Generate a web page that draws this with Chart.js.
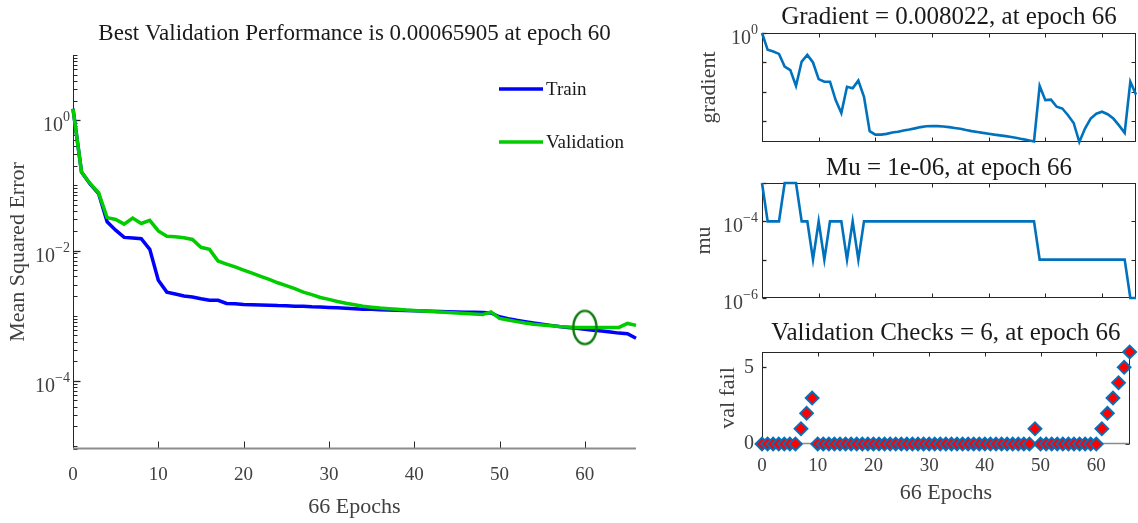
<!DOCTYPE html>
<html>
<head>
<meta charset="utf-8">
<script src="https://cdn.jsdelivr.net/npm/chart.js@4.4.1/dist/chart.umd.min.js"></script>
<style>
html,body{margin:0;padding:0;background:#fff;overflow:hidden;}
#wrap{position:relative;width:1138px;height:523px;background:#fff;}
#wrap canvas{position:absolute;left:0;top:0;width:1138px;height:523px;}
</style>
</head>
<body>
<div id="wrap">
<canvas id="perf" width="1138" height="523"></canvas>
<canvas id="grad" width="1138" height="523"></canvas>
<canvas id="mu" width="1138" height="523"></canvas>
<canvas id="vfail" width="1138" height="523"></canvas>
</div>
<script>
// ---------------- data ----------------
const epochs = [0,1,2,3,4,5,6,7,8,9,10,11,12,13,14,15,16,17,18,19,20,21,22,23,24,25,26,27,28,29,30,31,32,33,34,35,36,37,38,39,40,41,42,43,44,45,46,47,48,49,50,51,52,53,54,55,56,57,58,59,60,61,62,63,64,65,66];

const trainPerf = [1.5,0.16,0.105,0.075,0.0275,0.0205,0.0159,0.0155,0.0152,0.0104,
  0.0035,0.0023,0.00215,0.0020,0.00194,0.00182,0.00173,0.00172,0.00154,0.00152,
  0.00148,0.00147,0.00146,0.00145,0.00143,0.00142,0.00140,0.00139,0.00137,0.00136,
  0.00134,0.00132,0.00130,0.00128,0.00126,0.00125,0.00123,0.00122,0.00121,0.00120,
  0.00119,0.00118,0.00117,0.00116,0.00115,0.00114,0.00113,0.00113,0.00112,0.00110,
  0.00096,0.00090,0.00085,0.00081,0.00077,0.00074,0.00071,0.00068,0.00066,0.00064,
  0.00062,0.00060,0.00058,0.00056,0.00054,0.00053,0.00045];

const valPerf = [1.5,0.16,0.107,0.077,0.032,0.030,0.0254,0.0315,0.026,0.029,
  0.020,0.0166,0.0163,0.0157,0.0148,0.0112,0.0104,0.0069,0.0062,0.0056,
  0.0050,0.0045,0.0040,0.0036,0.0032,0.0029,0.0026,0.0023,0.0021,0.0019,
  0.00178,0.00165,0.00155,0.00147,0.00140,0.00135,0.00131,0.00128,0.00125,0.00122,
  0.00120,0.00118,0.00116,0.00114,0.00112,0.00110,0.00108,0.00106,0.00104,0.00114,
  0.00091,0.00086,0.00081,0.00077,0.00074,0.00072,0.00070,0.00068,0.00067,0.00066,
  0.00065905,0.00066,0.00066,0.00066,0.00066,0.00076,0.00071];

const bestEpoch = 60;
const bestPerf = 0.00065905;

const gradient = [1.0,0.268,0.236,0.195,0.072,0.055,0.0158,0.107,0.18,0.0995,
  0.027,0.022,0.022,0.0052,0.0019,0.0148,0.0131,0.024,0.0068,0.00046,
  0.00035,0.00035,0.00037,0.00041,0.00044,0.00048,0.00052,0.00057,0.00063,0.00067,
  0.00069,0.00068,0.00066,0.00063,0.00059,0.00055,0.00050,0.00046,0.00043,0.00040,
  0.000376,0.00035,0.00033,0.00031,0.00029,0.00027,0.000245,0.000225,0.000205,0.0158,
  0.0052,0.0054,0.0031,0.0027,0.0016,0.00087,0.000196,0.00056,0.00123,0.0018,
  0.0021,0.00173,0.00123,0.00072,0.0004,0.022,0.008022];

const mu = [1e-3,1e-4,1e-4,1e-4,1e-3,1e-3,1e-3,1e-4,1e-4,1e-5,
  1e-4,1e-5,1e-4,1e-4,1e-4,1e-5,1e-4,1e-5,1e-4,1e-4,
  1e-4,1e-4,1e-4,1e-4,1e-4,1e-4,1e-4,1e-4,1e-4,1e-4,
  1e-4,1e-4,1e-4,1e-4,1e-4,1e-4,1e-4,1e-4,1e-4,1e-4,
  1e-4,1e-4,1e-4,1e-4,1e-4,1e-4,1e-4,1e-4,1e-4,1e-5,
  1e-5,1e-5,1e-5,1e-5,1e-5,1e-5,1e-5,1e-5,1e-5,1e-5,
  1e-5,1e-5,1e-5,1e-5,1e-5,1e-6,1e-6];

const valFail = [0,0,0,0,0,0,0,1,2,3,
  0,0,0,0,0,0,0,0,0,0,
  0,0,0,0,0,0,0,0,0,0,
  0,0,0,0,0,0,0,0,0,0,
  0,0,0,0,0,0,0,0,0,1,
  0,0,0,0,0,0,0,0,0,0,
  0,1,2,3,4,5,6];

// tick values and labels
const epochTicks = [0,10,20,30,40,50,60];
const epochTickLabels = ['0','10','20','30','40','50','60'];
const perfYTicks = [1e-4,1e-2,1];
const perfYTickLabels = ['10^\u22124','10^\u22122','10^0'];
const gradYTicks = [1];
const gradYTickLabels = ['10^0'];
const gradYDecades = [1e-3,1e-2,1e-1,1];
const muYTicks = [1e-6,1e-4];
const muYTickLabels = ['10^\u22126','10^\u22124'];
const muYDecades = [1e-6,1e-5,1e-4,1e-3];
const valFailYTicks = [0,5];
const valFailYTickLabels = ['0','5'];

// text
const perfTitle = 'Best Validation Performance is 0.00065905 at epoch 60';
const gradTitle = 'Gradient = 0.008022, at epoch 66';
const muTitle = 'Mu = 1e-06, at epoch 66';
const vfTitle = 'Validation Checks = 6, at epoch 66';
const xTitle = '66 Epochs';

// ---------------- styling helpers ----------------
const SERIF = '"Liberation Serif", "Times New Roman", serif';
const TICK_COLOR = '#404040';
const TEXT_COLOR = '#1a1a1a';
const AX_DARK = '#262626';
const AX_GRAY = '#8c8c8c';
const MATBLUE = '#0072BD';

function pts(ys){ return epochs.map((e,i)=>({x:e, y:ys[i]})); }
function minorLog(lo, hi){
  const out=[];
  for(let p=Math.floor(Math.log10(lo)); p<=Math.ceil(Math.log10(hi)); p++){
    for(let m=1;m<=9;m++){ const v=m*Math.pow(10,p); if(v>=lo*0.999 && v<=hi*1.001) out.push(v); }
  }
  return out;
}

const axesPlugin = {
  id: 'matAxes',
  beforeDatasetsDraw(chart, args, o){
    const {ctx, chartArea:a, scales} = chart;
    const xs = scales.x, ys = scales.y;
    ctx.save();
    ctx.lineCap = 'butt';
    const line = (x1,y1,x2,y2,c,w)=>{ ctx.strokeStyle=c; ctx.lineWidth=w; ctx.beginPath(); ctx.moveTo(x1,y1); ctx.lineTo(x2,y2); ctx.stroke(); };
    const L=Math.round(a.left)+0.5, R=Math.round(a.right)-0.5, T=Math.round(a.top)+0.5, B=Math.round(a.bottom)-0.5;
    const tl = o.tickLen, ml = o.minorLen;
    (o.xTicks||[]).forEach(v=>{
      const px = Math.round(xs.getPixelForValue(v))+0.5;
      line(px,B,px,B-tl,AX_DARK,1);
      if(o.box) line(px,T,px,T+tl,AX_DARK,1);
    });
    (o.yMinor||[]).forEach(v=>{
      const py = Math.round(ys.getPixelForValue(v))+0.5;
      line(L,py,L+ml,py,AX_DARK,1);
      if(o.box) line(R,py,R-ml,py,AX_DARK,1);
    });
    (o.yTicks||[]).forEach(v=>{
      const py = Math.round(ys.getPixelForValue(v))+0.5;
      line(L,py,L+tl,py,AX_DARK,1.3);
      if(o.box) line(R,py,R-tl,py,AX_DARK,1);
    });
    line(L,a.top,L,a.bottom,AX_DARK,1);
    line(a.left,B,a.right,B,o.bottomColor||AX_DARK,o.bottomWidth||1);
    if(o.box){
      line(a.left,T,a.right,T,AX_DARK,1);
      line(R,a.top,R,a.bottom,AX_DARK,1);
    }
    // power-of-ten tick labels (base + superscript exponent)
    if(o.powLabels){
      const P = o.powLabels;
      ctx.fillStyle = TICK_COLOR; ctx.textBaseline = 'alphabetic'; ctx.textAlign = 'left';
      P.values.forEach((v,i)=>{
        const [base, exp] = P.labels[i].split('^');
        const py = ys.getPixelForValue(v);
        ctx.font = P.supSize+'px '+SERIF; const we = ctx.measureText(exp).width;
        ctx.font = P.size+'px '+SERIF; const wb = ctx.measureText(base).width;
        const xr = a.left - P.pad;
        ctx.font = P.size+'px '+SERIF; ctx.fillText(base, xr - we - wb, py + P.baseDy);
        ctx.font = P.supSize+'px '+SERIF; ctx.fillText(exp, xr - we, py + P.supDy);
      });
    }
    ctx.restore();
  }
};

const legendPlugin = {
  id: 'inLegend',
  afterDraw(chart, args, o){
    if(!o.items) return;
    const ctx = chart.ctx;
    ctx.save();
    o.items.forEach(it=>{
      const ds = chart.data.datasets[it.index];
      ctx.strokeStyle = ds.borderColor; ctx.lineWidth = ds.borderWidth;
      ctx.beginPath(); ctx.moveTo(it.x1, it.y); ctx.lineTo(it.x2, it.y); ctx.stroke();
      ctx.fillStyle = TEXT_COLOR; ctx.font = o.font; ctx.textBaseline='middle'; ctx.textAlign='left';
      ctx.fillText(ds.label, it.x2+3, it.y+1);
    });
    ctx.restore();
  }
};

function ellipseImage(w,h,color,lw){
  const c=document.createElement('canvas'); c.width=w; c.height=h;
  const g=c.getContext('2d'); g.strokeStyle=color; g.lineWidth=lw;
  g.beginPath(); g.ellipse(w/2,h/2,w/2-lw,h/2-lw,0,0,Math.PI*2); g.stroke();
  return c;
}

function yScale(opts){
  return {
    type: opts.type, position:'left', min: opts.min, max: opts.max, bounds:'data',
    grid:{display:false, drawTicks:false}, border:{display:false},
    afterFit: sc=>{ sc.width = opts.width; },
    afterBuildTicks: sc=>{ sc.ticks = opts.ticks.map(v=>({value:v})); },
    ticks:{ display: !opts.pow, autoSkip:false, padding: opts.tickPad, color: TICK_COLOR,
      font:{family:SERIF, size: opts.tickSize},
      callback:(v,i)=> opts.labels[i] },
    title:{ display:true, text: opts.title, color: TICK_COLOR,
      font:{family:SERIF, size: opts.titleSize}, padding:{top: opts.titlePad, bottom:0} }
  };
}
function xScale(opts){
  return {
    type:'linear', position:'bottom', min:0, max:66, bounds:'data',
    grid:{display:false, drawTicks:false}, border:{display:false},
    afterFit: sc=>{ sc.height = opts.height; },
    afterBuildTicks: sc=>{ sc.ticks = epochTicks.map(v=>({value:v})); },
    ticks:{ display: opts.showTicks, autoSkip:false, maxRotation:0, padding: opts.tickPad||0,
      color: TICK_COLOR, font:{family:SERIF, size:19},
      callback:(v,i)=> epochTickLabels[i] },
    title:{ display: !!opts.title, text: opts.title||'', color: TICK_COLOR,
      font:{family:SERIF, size:22}, padding:{top:0, bottom: opts.titlePad||0} }
  };
}
function titleOpt(text, size, top, bottom){
  return { display:true, text, fullSize:false, color: TEXT_COLOR,
    font:{family:SERIF, size, weight:'normal', lineHeight:1.2}, padding:{top, bottom} };
}
function pow(values, labels, pad){ return {values, labels, pad, size:20, supSize:14, baseDy:11, supDy:1}; }

Chart.defaults.animation = false;
Chart.defaults.responsive = false;
Chart.defaults.events = [];
Chart.defaults.plugins.legend.display = false;
Chart.defaults.plugins.tooltip.enabled = false;

// ---------------- performance chart ----------------
new Chart(document.getElementById('perf'), {
  type:'line',
  data:{ datasets:[
    { label:'Train', data: pts(trainPerf), borderColor:'#0000FF', borderWidth:3.5, pointRadius:0, tension:0, order:2, clip:false },
    { label:'Validation', data: pts(valPerf), borderColor:'#00CC00', borderWidth:3.5, pointRadius:0, tension:0, order:1, clip:false },
    { label:'Best', data:[{x:bestEpoch, y:bestPerf}], showLine:false, pointStyle: ellipseImage(28,38,'#0B7A0B',2.4),
      pointRadius:14, borderWidth:0, order:0, clip:false }
  ]},
  options:{
    layout:{ padding:{ left:0, right:1138-636, top:0, bottom:0 } },
    plugins:{
      title: titleOpt(perfTitle, 23, 19.8, 7.6),
      matAxes:{ xTicks: epochTicks.slice(1), yTicks: perfYTicks, yMinor: minorLog(9e-6,10), tickLen:7, minorLen:4,
        bottomColor:AX_GRAY, bottomWidth:2, powLabels: pow(perfYTicks, perfYTickLabels, 3) },
      inLegend:{ font:'19px '+SERIF, items:[ {index:0, x1:499, x2:543, y:89}, {index:1, x1:499, x2:543, y:142} ] }
    },
    scales:{
      x: xScale({height:74, showTicks:true, tickPad:15, title:xTitle, titlePad:3}),
      y: yScale({type:'logarithmic', pow:true, min:9e-6, max:10, width:73, ticks:perfYTicks, labels:perfYTickLabels, tickPad:3, tickSize:19, title:'Mean Squared Error', titleSize:22, titlePad:5})
    }
  },
  plugins:[axesPlugin, legendPlugin]
});

// ---------------- gradient ----------------
new Chart(document.getElementById('grad'), {
  type:'line',
  data:{ datasets:[ { label:'gradient', data: pts(gradient), borderColor:MATBLUE, borderWidth:2.6, pointRadius:0, tension:0, clip:false } ]},
  options:{
    layout:{ padding:{ left:690, right:2, top:0, bottom:523-150 } },
    plugins:{
      title: titleOpt(gradTitle, 25, 2, 1),
      matAxes:{ box:true, xTicks: epochTicks.slice(1), yTicks: gradYDecades, tickLen:4, minorLen:0,
        powLabels: pow(gradYTicks, gradYTickLabels, 4) }
    },
    scales:{
      x: xScale({height:8, showTicks:false}),
      y: yScale({type:'logarithmic', pow:true, min:0.000196, max:1, width:72, ticks:gradYTicks, labels:gradYTickLabels, tickPad:4, tickSize:19, title:'gradient', titleSize:22, titlePad:6})
    }
  },
  plugins:[axesPlugin]
});

// ---------------- mu ----------------
new Chart(document.getElementById('mu'), {
  type:'line',
  data:{ datasets:[ { label:'mu', data: pts(mu), borderColor:MATBLUE, borderWidth:2.6, pointRadius:0, tension:0, clip:false } ]},
  options:{
    layout:{ padding:{ left:690, right:2, top:150, bottom:523-306 } },
    plugins:{
      title: titleOpt(muTitle, 25, 3, 0),
      matAxes:{ box:true, xTicks: epochTicks.slice(1), yTicks: muYDecades, tickLen:4, minorLen:0,
        powLabels: pow(muYTicks, muYTickLabels, 4) }
    },
    scales:{
      x: xScale({height:8, showTicks:false}),
      y: yScale({type:'logarithmic', pow:true, min:1e-6, max:1e-3, width:72, ticks:muYTicks, labels:muYTickLabels, tickPad:4, tickSize:19, title:'mu', titleSize:22, titlePad:1})
    }
  },
  plugins:[axesPlugin]
});

// ---------------- validation checks ----------------
new Chart(document.getElementById('vfail'), {
  type:'line',
  data:{ datasets:[ { label:'val fail', data: pts(valFail), showLine:false, pointStyle:'rectRot', pointRadius:6.5,
    backgroundColor:'#FF0000', borderColor:MATBLUE, borderWidth:1.8, clip:false } ]},
  options:{
    layout:{ padding:{ left:690, right:2, top:300, bottom:0 } },
    plugins:{
      title: titleOpt(vfTitle, 25, 18, 4),
      matAxes:{ box:true, xTicks: epochTicks.slice(1), yTicks: valFailYTicks, tickLen:4, minorLen:0, bottomColor:AX_GRAY, bottomWidth:1.5 }
    },
    scales:{
      x: xScale({height:79, showTicks:true, tickPad:11, title:xTitle, titlePad:17}),
      y: yScale({type:'linear', min:0, max:6, width:72, ticks:valFailYTicks, labels:valFailYTickLabels, tickPad:8, tickSize:20, title:'val fail', titleSize:22, titlePad:25})
    }
  },
  plugins:[axesPlugin]
});
</script>
</body>
</html>
